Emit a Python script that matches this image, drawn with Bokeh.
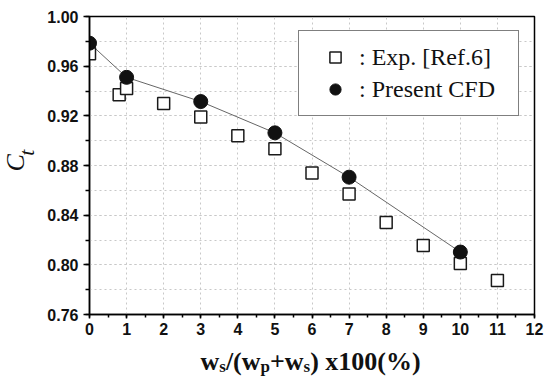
from bokeh.plotting import figure
from bokeh.models import (ColumnDataSource, Range1d, SingleIntervalTicker, Legend,
                          LegendItem, NumeralTickFormatter)
from bokeh.layouts import row, column
from bokeh.core.properties import value
from bokeh.embed import file_html
from bokeh.resources import INLINE
import math

# ---- data ----
exp_x = [0, 0.8, 1, 2, 3, 4, 5, 6, 7, 8, 9, 10, 11]
exp_ct = [0.970, 0.937, 0.942, 0.930, 0.919, 0.904, 0.8935, 0.874, 0.857, 0.834, 0.8156, 0.801, 0.7874]
cfd_x = [0, 1, 3, 5, 7, 10]
cfd_ct = [0.9785, 0.951, 0.9315, 0.9063, 0.8706, 0.8103]

exp_label = ": Exp. [Ref.6]"
cfd_label = ": Present CFD"

# x-axis title pieces (text, is_subscript) and y-axis title pieces
xtitle_pieces = [("w", False), ("s", True), ("/(", False), ("w", False), ("p", True),
                 ("+w", False), ("s", True), (") x100(%)", False)]
ytitle_pieces = [("C", False), ("t", True)]

x_range = (0, 12)
y_range = (0.76, 1.00)

TEXT = "#111111"

# ---------------- main plot ----------------
p = figure(width=505, height=346, output_backend="svg", toolbar_location=None,
           x_range=Range1d(*x_range), y_range=Range1d(*y_range),
           min_border_left=49, min_border_right=11, min_border_top=16, min_border_bottom=32)
p.background_fill_color = "white"
p.border_fill_color = "white"
p.outline_line_color = "black"
p.outline_line_width = 1.5

p.xaxis.ticker = SingleIntervalTicker(interval=1, num_minor_ticks=2)
p.yaxis.ticker = SingleIntervalTicker(interval=0.04, num_minor_ticks=2)
p.yaxis.formatter = NumeralTickFormatter(format="0.00")
for ax in (p.xaxis[0], p.yaxis[0]):
    ax.axis_line_color = "black"
    ax.axis_line_width = 1.5
    ax.major_tick_line_color = "black"
    ax.minor_tick_line_color = "black"
    ax.major_tick_line_width = 1.5
    ax.minor_tick_line_width = 1.5
    ax.major_tick_in = 0
    ax.minor_tick_in = 0
    ax.major_label_text_font = "Liberation Sans"
    ax.major_label_text_font_style = "bold"
    ax.major_label_text_font_size = "16px"
    ax.major_label_text_color = TEXT
p.xaxis.major_tick_out = 4
p.xaxis.minor_tick_out = 3
p.yaxis.major_tick_out = 6
p.yaxis.minor_tick_out = 4
p.xaxis.major_label_standoff = 4
p.yaxis.major_label_standoff = 5

p.xgrid.grid_line_color = "#c8c8c8"
p.xgrid.grid_line_dash = "2 3"
p.ygrid.grid_line_color = "#c8c8c8"
p.ygrid.grid_line_dash = "2 3"
p.ygrid.minor_grid_line_color = "#c8c8c8"
p.ygrid.minor_grid_line_dash = "2 3"

src_exp = ColumnDataSource(dict(x=exp_x, y=exp_ct))
src_cfd = ColumnDataSource(dict(x=cfd_x, y=cfd_ct))

p.line("x", "y", source=src_cfd, line_color="#666666", line_width=1)
r_exp = p.scatter("x", "y", source=src_exp, marker="square", size=12,
                  fill_color="white", line_color="#1a1a1a", line_width=1.5)
r_cfd = p.scatter("x", "y", source=src_cfd, marker="circle", size=14,
                  fill_color="#111111", line_color="#111111")

legend = Legend(items=[LegendItem(label=exp_label, renderers=[r_exp]),
                       LegendItem(label=cfd_label, renderers=[r_cfd])],
                location=(209, 198))
legend.label_text_font = "Liberation Serif"
legend.label_text_font_size = "24px"
legend.label_text_color = TEXT
legend.glyph_width = 48
legend.glyph_height = 28
legend.label_standoff = 0
legend.label_width = 147
legend.padding = 12
legend.spacing = 4
legend.margin = 0
legend.border_line_color = "black"
legend.border_line_width = 1.5
legend.background_fill_color = "white"
legend.background_fill_alpha = 1.0
p.add_layout(legend, "center")


def label_fig(width, height):
    f = figure(width=width, height=height, output_backend="svg", toolbar_location=None,
               x_range=Range1d(0, width), y_range=Range1d(0, height),
               x_axis_type=None, y_axis_type=None,
               min_border=0, min_border_left=0, min_border_right=0,
               min_border_top=0, min_border_bottom=0)
    f.outline_line_color = None
    f.background_fill_color = "white"
    f.border_fill_color = "white"
    f.grid.visible = False
    return f


MID = (0.891 - 0.216) / 2  # baseline -> middle of the font box, in em

# ---------------- y-axis title (left strip) ----------------
yl = label_fig(40, 346)
y_main_fs, y_sub_fs = 26, 22
y_c_w = 0.667 * y_main_fs  # advance of italic C
ysrc = ColumnDataSource(dict(
    x=[24 - MID * y_main_fs, 33 - MID * y_sub_fs],
    y=[166, 166 + y_c_w + 1],
    text=[t for t, _ in ytitle_pieces],
    fs=[f"{y_sub_fs if s else y_main_fs}px" for _, s in ytitle_pieces],
))
yl.text("x", "y", text="text", source=ysrc, angle=math.pi / 2,
        text_font=value("Liberation Serif"), text_font_style="italic",
        text_font_size="fs", text_color=TEXT,
        text_align="left", text_baseline="middle")

# ---------------- x-axis title (bottom strip) ----------------
xl = label_fig(545, 30)
x_main_fs, x_sub_fs = 26, 17
adv = {"w": 0.722, "s": 0.389, "/(": 0.611, "p": 0.556, "+w": 1.292, ") x100(%)": 4.249}
xs, ys, fss = [], [], []
cur = 200.0
for t, s in xtitle_pieces:
    fs = x_sub_fs if s else x_main_fs
    base = 4 if s else 6          # baseline height above the strip's bottom
    xs.append(cur)
    ys.append(base + MID * fs)
    fss.append(f"{fs}px")
    cur += adv[t] * fs
xsrc = ColumnDataSource(dict(x=xs, y=ys, text=[t for t, _ in xtitle_pieces], fs=fss))
xl.text("x", "y", text="text", source=xsrc,
        text_font=value("Liberation Serif"), text_font_style="bold",
        text_font_size="fs", text_color=TEXT,
        text_align="left", text_baseline="middle")

layout = column(row(yl, p, spacing=0), xl, spacing=0)

open("out.html", "w").write(file_html(layout, INLINE))
